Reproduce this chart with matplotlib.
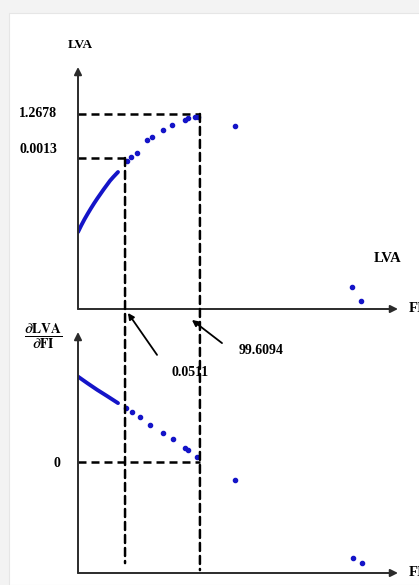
import numpy as np
import matplotlib.pyplot as plt
from matplotlib.patches import ConnectionPatch, Rectangle

plt.rcParams['font.family'] = ['Liberation Serif', 'DejaVu Serif']
plt.rcParams['font.weight'] = 'bold'
plt.rcParams['mathtext.fontset'] = 'stix'

BLUE = '#1414c8'
AX_COL = '#2b2b2b'

# top panel : LVA vs FI (schematic units, axes run 0..10)
lva_solid_fi = [0.0, 0.1, 0.2, 0.3, 0.4, 0.5, 0.6, 0.7, 0.8, 0.9, 1.0, 1.1, 1.25]
lva_solid = [3.18, 3.45, 3.70, 3.93, 4.15, 4.36, 4.56, 4.75, 4.94, 5.12, 5.30, 5.45, 5.66]
lva_dot_fi = [1.53, 1.66, 1.84, 2.16, 2.31, 2.66, 2.94, 3.34, 3.44, 3.66, 3.75, 4.91, 8.56, 8.84]
lva_dot = [6.12, 6.28, 6.45, 6.98, 7.11, 7.40, 7.60, 7.81, 7.89, 7.93, 7.93, 7.56, 0.91, 0.33]

# bottom panel : dLVA/dFI vs FI
grad_solid_fi = [0.0, 0.3, 0.6, 0.9, 1.25]
grad_solid = [8.15, 7.87, 7.60, 7.35, 7.05]
grad_dot_fi = [1.50, 1.69, 1.94, 2.25, 2.66, 2.97, 3.34, 3.44, 3.72, 4.91, 8.59, 8.88]
grad_dot = [6.85, 6.68, 6.47, 6.14, 5.81, 5.56, 5.19, 5.10, 4.81, 3.86, 0.62, 0.41]

# marked points
fi_marks = [1.47, 3.81]
fi_labels = ['0.0511', '99.6094']
lva_marks = [6.24, 8.06]
lva_labels = ['0.0013', '1.2678']
grad_zero = 4.61


def draw_axes(ax):
    ax.set_xlim(0, 10)
    ax.set_ylim(0, 10)
    ax.axis('off')
    arr = dict(arrowstyle='-|>', color=AX_COL, lw=1.4, mutation_scale=11,
               shrinkA=0, shrinkB=0)
    ax.annotate('', xy=(10, 0), xytext=(0, 0), arrowprops=arr, annotation_clip=False)
    ax.annotate('', xy=(0, 10), xytext=(0, 0), arrowprops=arr, annotation_clip=False)
    ax.text(10.34, 0, 'FI', fontsize=10.5, ha='left', va='center', clip_on=False)


fig = plt.figure(figsize=(4.19, 5.85), dpi=100)
fig.patch.set_facecolor('#f3f3f3')
fig.patches.append(Rectangle((9/419, 0), 1, 572/585, transform=fig.transFigure,
                             facecolor='white', edgecolor='#e6e6e6', lw=0.8, zorder=-10))
ax1 = fig.add_axes([78/419, 276/585, 320/419, 242/585])
ax2 = fig.add_axes([78/419, 12/585, 320/419, 241/585])
draw_axes(ax1)
draw_axes(ax2)

dash = dict(color='black', lw=1.8, dashes=(3.2, 2.0))

# top panel
ax1.plot(lva_solid_fi, lva_solid, color=BLUE, lw=2.8, solid_capstyle='round')
ax1.scatter(lva_dot_fi, lva_dot, s=9, color=BLUE, zorder=3)
for fi, lv, lab in zip(fi_marks, lva_marks, lva_labels):
    ax1.plot([0, fi], [lv, lv], **dash)
    ax1.text(-1.25, lv + (0.0 if lab == '1.2678' else 0.35), lab, fontsize=10,
             ha='center', va='center', clip_on=False)
ax1.text(0.06, 10.9, 'LVA', fontsize=9.5, ha='center', va='center', clip_on=False)
ax1.text(9.66, 2.1, 'LVA', fontsize=10.5, ha='center', va='center')

# bottom panel
ax2.plot(grad_solid_fi, grad_solid, color=BLUE, lw=2.8, solid_capstyle='round')
ax2.scatter(grad_dot_fi, grad_dot, s=9, color=BLUE, zorder=3)
ax2.plot([0, fi_marks[1]], [grad_zero, grad_zero], **dash)
ax2.text(-0.66, grad_zero - 0.05, '0', fontsize=10, ha='center', va='center', clip_on=False)
ax2.text(-1.09, 9.79, r'$\frac{\mathbf{\partial LVA}}{\mathbf{\partial FI}}$', fontsize=14,
         ha='center', va='center', clip_on=False)

# vertical dashed guides running through both panels
bottoms = [0.41, 0.12]
for fi, lv, yb in zip(fi_marks, lva_marks, bottoms):
    con = ConnectionPatch(xyA=(fi, lv), coordsA=ax1.transData,
                          xyB=(fi, yb), coordsB=ax2.transData,
                          color='black', lw=1.8, linestyle=(0, (3.2, 2.0)))
    fig.add_artist(con)

# call-out arrows
arr2 = dict(arrowstyle='-|>', color='black', lw=1.3, mutation_scale=9, shrinkA=0, shrinkB=0)
ax2.annotate('', xy=(1.56, 10.79), xytext=(2.47, 9.05), arrowprops=arr2, annotation_clip=False)
ax2.annotate('', xy=(3.56, 10.5), xytext=(4.5, 9.54), arrowprops=arr2, annotation_clip=False)
ax2.text(3.5, 8.3, fi_labels[0], fontsize=10, ha='center', va='center')
ax2.text(5.72, 9.25, fi_labels[1], fontsize=10, ha='center', va='center')

fig.savefig('out.png', dpi=100, facecolor=fig.get_facecolor())
